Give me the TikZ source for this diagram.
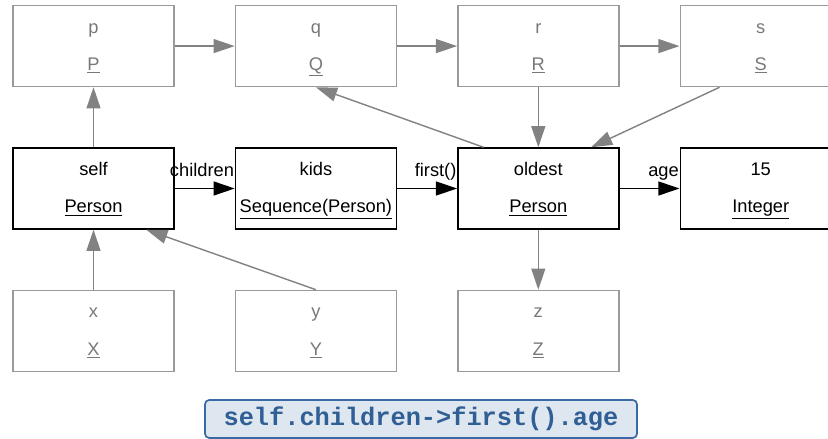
\documentclass[tikz,border=0pt]{standalone}
\usepackage{fontspec}
\setmainfont{Liberation Sans}
\setmonofont{Liberation Mono}
\usepackage{xcolor}
\usetikzlibrary{positioning, arrows.meta}

\definecolor{objgray}{HTML}{9A9A9A}
\definecolor{txtgray}{HTML}{787878}
\definecolor{linkgray}{HTML}{828282}
\definecolor{codeblue}{HTML}{2F5F95}
\definecolor{codeline}{HTML}{3A6AA6}
\definecolor{codefill}{HTML}{DEE6F0}

% object box text: name on top, underlined type below (struts keep the rows level)
\newcommand{\objtext}[2]{\rule{0pt}{13pt}#1\\\underline{#2}\rule[-5pt]{0pt}{5pt}}

\begin{document}
\begin{tikzpicture}[node distance=1.5cm and 1.5cm, auto,
    objbox/.style={draw, rectangle, line width=1pt, minimum width=4.025cm, minimum height=2.025cm,
      align=center, inner sep=0pt, font=\fontsize{13}{26.5}\selectfont},
    ctxbox/.style={objbox, draw=objgray, text=txtgray},
    navlink/.style={-{Triangle[length=5.3mm, width=3.5mm]}, line width=1pt},
    ctxlink/.style={navlink, draw=linkgray, fill=linkgray},
    navlabel/.style={pos=1, anchor=base east, yshift=0.3cm, inner sep=0pt, font=\fontsize{13}{15}\selectfont}]
    \useasboundingbox (-2.3375,4.7125) rectangle (18.3625,-6.2625);

    % navigation path
    \node[objbox] (self) {\objtext{self}{Person}};
    \node[objbox, right=of self] (kids) {\objtext{kids}{Sequence(Person)}};
    \node[objbox, right=of kids] (oldest) {\objtext{oldest}{Person}};
    \node[objbox, right=of oldest] (age) {\objtext{15}{Integer}};

    % surrounding objects
    \node[ctxbox, above=of self] (p) {\objtext{p}{P}};
    \node[ctxbox, above=of kids] (q) {\objtext{q}{Q}};
    \node[ctxbox, above=of oldest] (r) {\objtext{r}{R}};
    \node[ctxbox, above=of age] (s) {\objtext{s}{S}};
    \node[ctxbox, below=of self] (x) {\objtext{x}{X}};
    \node[ctxbox, below=of kids] (y) {\objtext{y}{Y}};
    \node[ctxbox, below=of oldest] (z) {\objtext{z}{Z}};

    \draw[navlink] (self) -- node[navlabel] {children} (kids);
    \draw[navlink] (kids) -- node[navlabel] {first()} (oldest);
    \draw[navlink] (oldest) -- node[navlabel] {age} (age);

    \draw[ctxlink] (p) -- (q);
    \draw[ctxlink] (q) -- (r);
    \draw[ctxlink] (r) -- (s);
    \draw[ctxlink] (self) -- (p);
    \draw[ctxlink] (x) -- (self);
    \draw[ctxlink] (y.north) -- (self.-38);
    \draw[ctxlink] (oldest.143) -- (q.south);
    \draw[ctxlink] (r) -- (oldest);
    \draw[ctxlink] (s.-135) -- (oldest.38);
    \draw[ctxlink] (oldest) -- (z);

    \node[draw=codeline, fill=codefill, line width=1.2pt, rounded corners=3pt, minimum width=10.8cm,
      minimum height=0.95cm, text=codeblue, font=\ttfamily\bfseries\fontsize{18}{20}\selectfont]
      (expr) at (8.1875,-5.7625) {self.children->first().age};
  \end{tikzpicture}
\end{document}
